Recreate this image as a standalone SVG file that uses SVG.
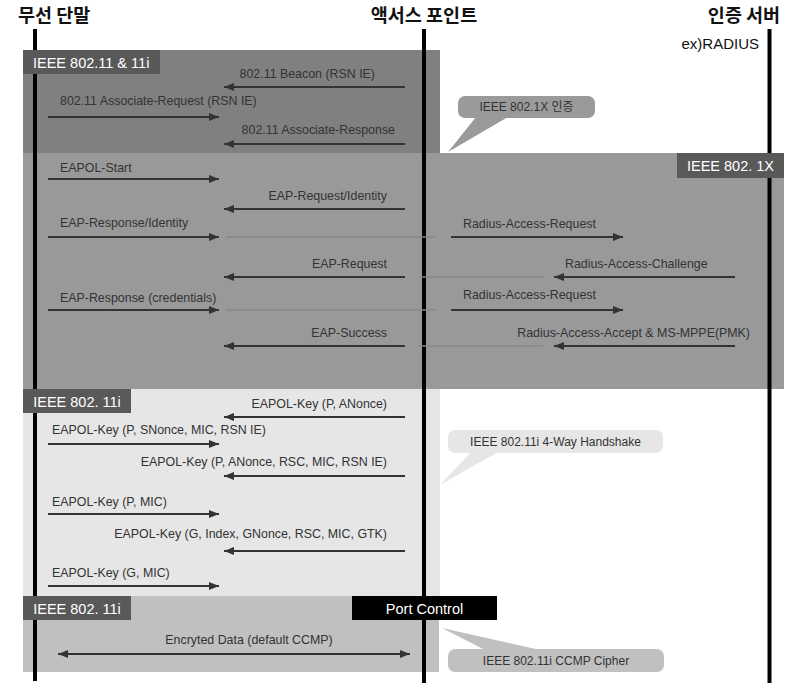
<svg xmlns="http://www.w3.org/2000/svg" width="791" height="683" viewBox="0 0 791 683">
<defs>
<style>
.hdr{font-family:"Noto Sans CJK KR","Liberation Sans",sans-serif;font-weight:bold;font-size:18.5px;fill:#111}
.lbl{font-family:"Liberation Sans","Noto Sans CJK KR",sans-serif;font-size:12.4px;fill:#333}
.tag{font-family:"Liberation Sans",sans-serif;font-size:14.5px;fill:#fff}
.bub{font-family:"Liberation Sans","Noto Sans CJK KR",sans-serif;font-size:12px;fill:#333}
.life{stroke:#000;stroke-width:4}
.msg{stroke:#333;stroke-width:2;fill:none;marker-end:url(#ah)}
.relay{stroke:#888;stroke-width:1.5}
</style>
<marker id="ah" markerUnits="userSpaceOnUse" markerWidth="10" markerHeight="8" refX="10" refY="4" orient="auto">
<path d="M0,0 L10,4 L0,8 z" fill="#333"/>
</marker>
<marker id="as" markerUnits="userSpaceOnUse" markerWidth="10" markerHeight="8" refX="0" refY="4" orient="auto">
<path d="M10,0 L0,4 L10,8 z" fill="#333"/>
</marker>
</defs>
<rect width="791" height="683" fill="#fff"/>
<g id="sections">
<rect x="23" y="50" width="417" height="103" fill="#808081"/>
<rect x="23" y="153" width="761" height="236" fill="#999"/>
<rect x="23" y="389" width="417" height="207" fill="#e6e6e6"/>
<rect x="23" y="596" width="416" height="76" fill="#c0c0c0"/>
</g>
<g id="callouts">
<g id="callout-8021x">
<path d="M476,117 L508,117 L448,152 z" fill="#9a9a9a"/>
<rect x="458" y="96" width="137" height="22" rx="7" fill="#9a9a9a"/>
<text class="bub" x="526.5" y="111" text-anchor="middle">IEEE 802.1X 인증</text>
</g>
<g id="callout-4way">
<path d="M471,452 L498,452 L440,485 z" fill="#e6e6e6"/>
<rect x="448" y="430" width="215" height="23" rx="7" fill="#e6e6e6"/>
<text class="bub" x="555.5" y="446" text-anchor="middle">IEEE 802.11i 4-Way Handshake</text>
</g>
<g id="callout-ccmp">
<path d="M485,650 L540,650 L442,628 z" fill="#c0c0c0"/>
<rect x="448" y="649" width="216" height="23" rx="7" fill="#c0c0c0"/>
<text class="bub" x="556" y="665" text-anchor="middle">IEEE 802.11i CCMP Cipher</text>
</g>
</g>
<g id="lifelines">
<g id="station"><text class="hdr" x="18" y="22">무선 단말</text><line class="life" x1="35" y1="29" x2="35" y2="681"/></g>
<g id="ap"><text class="hdr" x="424" y="22" text-anchor="middle">액서스 포인트</text><line class="life" x1="424" y1="29" x2="424" y2="683"/></g>
<g id="server"><text class="hdr" x="744" y="22" text-anchor="middle">인증 서버</text><text x="759" y="49" text-anchor="end" style="font-family:'Liberation Sans',sans-serif;font-size:15px;fill:#111">ex)RADIUS</text><line class="life" x1="769.5" y1="29" x2="769.5" y2="683"/></g>
</g>
<g id="connectors">
<line class="msg" x1="405" y1="87" x2="224" y2="87"/>
<line class="msg" x1="48" y1="117" x2="219" y2="117"/>
<line class="msg" x1="405" y1="144" x2="224" y2="144"/>
<line class="msg" x1="48" y1="179" x2="219" y2="179"/>
<line class="msg" x1="405" y1="209" x2="224" y2="209"/>
<line class="msg" x1="48" y1="237" x2="219" y2="237"/>
<line class="relay" x1="226" y1="237" x2="435" y2="237"/>
<line class="msg" x1="451" y1="237" x2="623" y2="237"/>
<line class="msg" x1="405" y1="277" x2="224" y2="277"/>
<line class="relay" x1="419" y1="277" x2="543" y2="277"/>
<line class="msg" x1="735" y1="277" x2="554" y2="277"/>
<line class="msg" x1="48" y1="310" x2="219" y2="310"/>
<line class="relay" x1="226" y1="310" x2="435" y2="310"/>
<line class="msg" x1="451" y1="310" x2="623" y2="310"/>
<line class="msg" x1="405" y1="346" x2="224" y2="346"/>
<line class="relay" x1="419" y1="346" x2="543" y2="346"/>
<line class="msg" x1="735" y1="346" x2="554" y2="346"/>
<line class="msg" x1="405" y1="417" x2="224" y2="417"/>
<line class="msg" x1="48" y1="444" x2="219" y2="444"/>
<line class="msg" x1="405" y1="476" x2="224" y2="476"/>
<line class="msg" x1="48" y1="514" x2="219" y2="514"/>
<line class="msg" x1="405" y1="551" x2="224" y2="551"/>
<line class="msg" x1="48" y1="586" x2="219" y2="586"/>
<line x1="58" y1="654" x2="410" y2="654" stroke="#333" stroke-width="2" marker-start="url(#as)" marker-end="url(#ah)"/>
</g>
<g id="labels">
<text class="lbl" x="375" y="78" text-anchor="end">802.11 Beacon (RSN IE)</text>
<text class="lbl" x="60" y="105">802.11 Associate-Request (RSN IE)</text>
<text class="lbl" x="395" y="134" text-anchor="end">802.11 Associate-Response</text>
<text class="lbl" x="60" y="172">EAPOL-Start</text>
<text class="lbl" x="387" y="200" text-anchor="end">EAP-Request/Identity</text>
<text class="lbl" x="60" y="227">EAP-Response/Identity</text>
<text class="lbl" x="463" y="228">Radius-Access-Request</text>
<text class="lbl" x="387" y="268" text-anchor="end">EAP-Request</text>
<text class="lbl" x="565" y="268">Radius-Access-Challenge</text>
<text class="lbl" x="60" y="302">EAP-Response (credentials)</text>
<text class="lbl" x="463" y="299">Radius-Access-Request</text>
<text class="lbl" x="387" y="337" text-anchor="end">EAP-Success</text>
<text class="lbl" x="750" y="337" text-anchor="end">Radius-Access-Accept &amp; MS-MPPE(PMK)</text>
<text class="lbl" x="387" y="408" text-anchor="end">EAPOL-Key (P, ANonce)</text>
<text class="lbl" x="52" y="434">EAPOL-Key (P, SNonce, MIC, RSN IE)</text>
<text class="lbl" x="387" y="466" text-anchor="end">EAPOL-Key (P, ANonce, RSC, MIC, RSN IE)</text>
<text class="lbl" x="52" y="506">EAPOL-Key (P, MIC)</text>
<text class="lbl" x="387" y="538" text-anchor="end">EAPOL-Key (G, Index, GNonce, RSC, MIC, GTK)</text>
<text class="lbl" x="52" y="577">EAPOL-Key (G, MIC)</text>
<text class="lbl" x="249" y="644" text-anchor="middle">Encryted Data (default CCMP)</text>
</g>
<g id="tags">
<g id="tag-80211"><rect x="23" y="50" width="137" height="24" fill="#595959"/><text class="tag" x="33" y="68">IEEE 802.11 &amp; 11i</text></g>
<g id="tag-8021x"><rect x="677" y="153" width="107" height="25" fill="#595959"/><text class="tag" x="730.5" y="171" text-anchor="middle">IEEE 802. 1X</text></g>
<g id="tag-11i-a"><rect x="23" y="389" width="108" height="24" fill="#595959"/><text class="tag" x="77" y="407" text-anchor="middle">IEEE 802. 11i</text></g>
<g id="tag-11i-b"><rect x="23" y="596" width="108" height="24" fill="#595959"/><text class="tag" x="77" y="614" text-anchor="middle">IEEE 802. 11i</text></g>
<g id="port-control"><rect x="352" y="596" width="145" height="24" fill="#000"/><text class="tag" x="424.5" y="614" text-anchor="middle">Port Control</text></g>
</g>
</svg>
